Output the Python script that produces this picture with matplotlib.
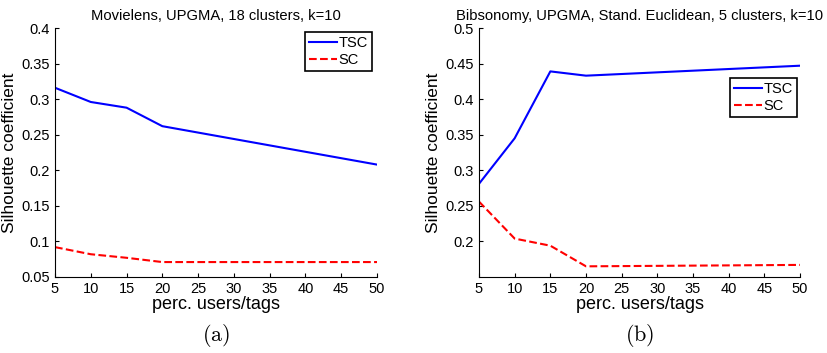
import numpy as np
import matplotlib
matplotlib.use("Agg")
import matplotlib.pyplot as plt

plt.rcParams['font.family'] = ['Liberation Sans', 'DejaVu Sans']
plt.rcParams['mathtext.fontset'] = 'cm'

# данные
perc = [5, 10, 15, 20, 50]
xticks = [5, 10, 15, 20, 25, 30, 35, 40, 45, 50]

movie_tsc = [0.316, 0.296, 0.288, 0.262, 0.208]
movie_sc = [0.092, 0.082, 0.077, 0.071, 0.071]

bib_tsc = [0.281, 0.345, 0.439, 0.433, 0.447]
bib_sc = [0.256, 0.204, 0.194, 0.165, 0.167]

fig = plt.figure(figsize=(8.28, 3.53), dpi=100)
W, H = 828, 353


def make_ax(x0, x1, y0, y1):
    return fig.add_axes([x0 / W, 1 - y1 / H, (x1 - x0) / W, (y1 - y0) / H])


def style(ax, title, ylim, yticks, letter, legend_loc):
    ax.set_xlim(5, 50)
    ax.set_ylim(*ylim)
    ax.set_xticks(xticks)
    ax.set_yticks(yticks)
    ax.set_yticklabels([f'{v:g}' for v in yticks])
    ax.spines['top'].set_visible(False)
    ax.spines['right'].set_visible(False)
    ax.tick_params(direction='in', labelsize=10.5, length=3)
    ax.set_title(title, fontsize=10.6, pad=6)
    ax.set_xlabel('perc. users/tags', fontsize=13, labelpad=0)
    ax.set_ylabel('Silhouette coefficient', fontsize=12.5, labelpad=3)
    leg = ax.legend(loc='upper right', bbox_to_anchor=legend_loc, fontsize=10.5,
                    fancybox=False, framealpha=1, edgecolor='black',
                    handlelength=1.9, handletextpad=0.1, borderpad=0.3,
                    labelspacing=0.2, borderaxespad=0)
    leg.get_frame().set_linewidth(1.2)
    ax.text(0.5, -0.233, r'$\mathrm{(%s)}$' % letter, transform=ax.transAxes,
            ha='center', va='center', fontsize=16)


ax1 = make_ax(55, 377, 28, 277)
ax1.plot(perc, movie_tsc, 'b-', lw=1.5, label='TSC')
ax1.plot(perc, movie_sc, 'r--', lw=1.5, label='SC')
style(ax1, 'Movielens, UPGMA, 18 clusters, k=10', (0.05, 0.4),
      [0.05, 0.1, 0.15, 0.2, 0.25, 0.3, 0.35, 0.4], 'a', (0.984, 0.985))

ax2 = make_ax(479, 800, 28, 277)
ax2.plot(perc, bib_tsc, 'b-', lw=1.5, label='TSC')
ax2.plot(perc, bib_sc, 'r--', lw=1.5, label='SC')
style(ax2, 'Bibsonomy, UPGMA, Stand. Euclidean, 5 clusters, k=10', (0.15, 0.5),
      [0.2, 0.25, 0.3, 0.35, 0.4, 0.45, 0.5], 'b', (0.99, 0.80))

fig.savefig('out.png', dpi=100)
